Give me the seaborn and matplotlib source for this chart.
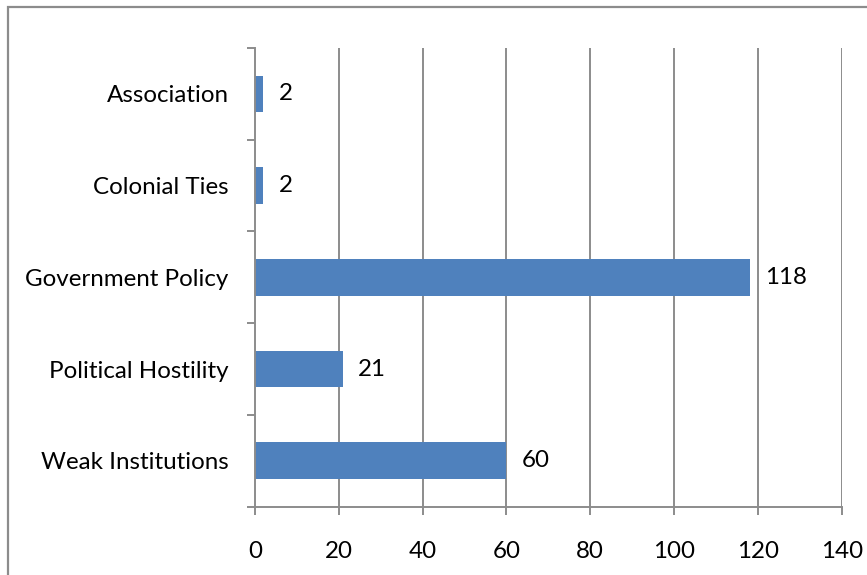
import matplotlib
matplotlib.use("Agg")
import matplotlib.pyplot as plt
import seaborn as sns
import pandas as pd
import numpy as np
from matplotlib.patches import Rectangle

# data
categories = ["Association", "Colonial Ties", "Government Policy",
              "Political Hostility", "Weak Institutions"]
counts = [2, 2, 118, 21, 60]
x_ticks = [0, 20, 40, 60, 80, 100, 120, 140]

df = pd.DataFrame({"cause": categories, "count": counts})

sns.set_theme(style="white")
plt.rcParams["font.family"] = ["Lato", "DejaVu Sans"]

grey = "#8c8c8c"
bar_color = "#4f81bd"
fsize = 17.4

fig = plt.figure(figsize=(8.67, 5.75), dpi=100)
ax = fig.add_axes([255 / 867, 1 - 506.7 / 575, 586.7 / 867, (506.7 - 48) / 575])

sns.barplot(data=df, x="count", y="cause", order=categories, color=bar_color,
            saturation=1, width=0.4, linewidth=0, ax=ax, zorder=3)

ax.set_xlim(0, 140)
ax.set_ylim(len(categories) - 0.5, -0.5)
ax.set_xticks(x_ticks)
ax.set_xlabel("")
ax.set_ylabel("")

# vertical gridlines
for t in x_ticks[1:]:
    ax.axvline(t, color=grey, lw=1.4, zorder=1)

# category ticks sit at the boundaries, labels at the centres
ax.set_yticks(np.arange(-0.5, len(categories), 1.0), minor=True)
ax.tick_params(axis="y", which="minor", length=6, width=1.4, color=grey, left=True)
ax.tick_params(axis="y", which="major", length=0, pad=19, labelsize=fsize, labelcolor="black")
ax.tick_params(axis="x", which="major", length=6, width=1.4, color=grey, bottom=True,
               pad=19, labelsize=fsize, labelcolor="black")

for side in ["top", "right"]:
    ax.spines[side].set_visible(False)
for side in ["left", "bottom"]:
    ax.spines[side].set_color(grey)
    ax.spines[side].set_linewidth(1.4)
    ax.spines[side].set_zorder(4)

for c in ax.containers:
    ax.bar_label(c, labels=[str(v) for v in counts], padding=11, fontsize=fsize, color="black")

# chart-area border (cropped on right and bottom in the original)
fig.patches.append(Rectangle((8 / 867, -0.2), 1.2, 1 - 7 / 575 + 0.2,
                             transform=fig.transFigure, fill=False,
                             edgecolor=grey, lw=1.6))

fig.savefig("out.png", dpi=100)
